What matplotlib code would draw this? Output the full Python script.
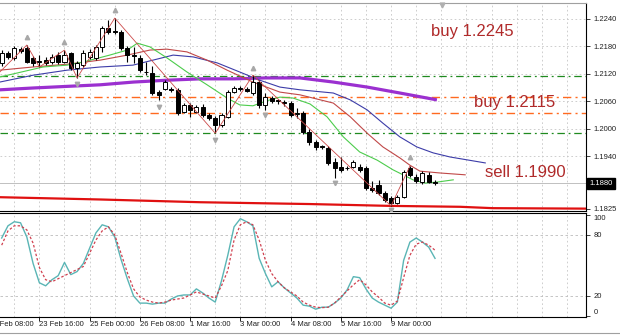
import matplotlib
matplotlib.use("Agg")
import matplotlib.pyplot as plt
import matplotlib.transforms as mtransforms
from matplotlib.lines import Line2D
import numpy as np

plt.rcParams['font.family'] = ['Liberation Sans', 'DejaVu Sans']

# ---------------- data (H4 candles) ----------------
opens = [1.2144, 1.2166, 1.2155, 1.2175, 1.2177, 1.2155, 1.2147, 1.2150, 1.2146, 1.2161,
         1.2146, 1.2166, 1.2133, 1.2139, 1.2157, 1.2155, 1.2179, 1.2220, 1.2213, 1.2212,
         1.2177, 1.2161, 1.2155, 1.2125, 1.2122, 1.2080, 1.2087, 1.2086, 1.2085, 1.2036,
         1.2052, 1.2036, 1.2047, 1.2030, 1.2023, 1.2008, 1.2025, 1.2080, 1.2088, 1.2087,
         1.2078, 1.2102, 1.2052, 1.2067, 1.2062, 1.2058, 1.2056, 1.2032, 1.2034, 1.1993,
         1.1971, 1.1961, 1.1958, 1.1927, 1.1916, 1.1914, 1.1916, 1.1916, 1.1914, 1.1870,
         1.1877, 1.1859, 1.1848, 1.1837, 1.1850, 1.1914, 1.1894, 1.1883, 1.1899, 1.1883]
highs = [1.2172, 1.2170, 1.2181, 1.2179, 1.2183, 1.2159, 1.2161, 1.2157, 1.2163, 1.2168,
         1.2172, 1.2168, 1.2148, 1.2172, 1.2174, 1.2183, 1.2225, 1.2238, 1.2242, 1.2216,
         1.2181, 1.2179, 1.2161, 1.2146, 1.2137, 1.2085, 1.2106, 1.2091, 1.2089, 1.2056,
         1.2056, 1.2052, 1.2054, 1.2034, 1.2028, 1.2034, 1.2085, 1.2093, 1.2093, 1.2091,
         1.2117, 1.2106, 1.2078, 1.2071, 1.2065, 1.2063, 1.2060, 1.2045, 1.2038, 1.1999,
         1.1975, 1.1964, 1.1962, 1.1936, 1.1938, 1.1918, 1.1931, 1.1923, 1.1918, 1.1885,
         1.1888, 1.1864, 1.1852, 1.1855, 1.1910, 1.1918, 1.1901, 1.1907, 1.1905, 1.1888]
lows = [1.2137, 1.2152, 1.2150, 1.2166, 1.2144, 1.2137, 1.2135, 1.2139, 1.2141, 1.2141,
        1.2144, 1.2128, 1.2111, 1.2135, 1.2152, 1.2150, 1.2168, 1.2207, 1.2207, 1.2172,
        1.2146, 1.2144, 1.2124, 1.2117, 1.2074, 1.2063, 1.2085, 1.2080, 1.2030, 1.2034,
        1.2025, 1.2034, 1.2025, 1.2019, 1.1990, 1.2004, 1.2023, 1.2078, 1.2082, 1.2080,
        1.2074, 1.2045, 1.2041, 1.2056, 1.2054, 1.2049, 1.2025, 1.2023, 1.1988, 1.1964,
        1.1953, 1.1955, 1.1920, 1.1892, 1.1905, 1.1910, 1.1914, 1.1905, 1.1866, 1.1861,
        1.1855, 1.1839, 1.1831, 1.1835, 1.1848, 1.1894, 1.1881, 1.1879, 1.1881, 1.1877]
closes = [1.2166, 1.2157, 1.2177, 1.2170, 1.2146, 1.2144, 1.2145, 1.2144, 1.2157, 1.2145,
          1.2161, 1.2133, 1.2144, 1.2166, 1.2168, 1.2179, 1.2220, 1.2212, 1.2211, 1.2177,
          1.2161, 1.2158, 1.2128, 1.2124, 1.2078, 1.2074, 1.2102, 1.2085, 1.2034, 1.2052,
          1.2041, 1.2047, 1.2030, 1.2023, 1.2008, 1.2030, 1.2080, 1.2089, 1.2087, 1.2083,
          1.2102, 1.2052, 1.2069, 1.2060, 1.2061, 1.2057, 1.2030, 1.2034, 1.1993, 1.1971,
          1.1960, 1.1959, 1.1925, 1.1914, 1.1910, 1.1913, 1.1927, 1.1910, 1.1870, 1.1866,
          1.1859, 1.1844, 1.1837, 1.1850, 1.1905, 1.1899, 1.1885, 1.1903, 1.1883, 1.1880]

# moving averages: (bar position, price) pairs
ma_green_x = [-0.3, 6.6, 10.4, 13, 17.2, 20, 21.6, 23.6, 26.3, 29.5, 32.7, 35.9, 37.9, 40,
              42.2, 44.3, 46.4, 49.1, 51.8, 54.4, 57, 59.8, 62.3, 63.9, 65.5, 67.4, 69.3, 71.9]
ma_green_y = [1.2113, 1.2135, 1.2139, 1.2146, 1.2161, 1.2172, 1.2187, 1.2179, 1.2155, 1.2124,
              1.2096, 1.2067, 1.2052, 1.2050, 1.2061, 1.2069, 1.2067, 1.2054, 1.2026, 1.1982,
              1.1949, 1.1931, 1.1910, 1.1899, 1.1888, 1.1881, 1.1883, 1.1888]
ma_red_x = [-0.3, 5, 10.4, 15.7, 20, 23.6, 26.3, 29.5, 32.7, 35.9, 40, 44.3, 47.5, 52.8,
            55.5, 58.2, 60.7, 63.4, 65, 66.6, 69.8, 73.8]
ma_red_y = [1.2128, 1.2135, 1.2141, 1.2150, 1.2161, 1.2172, 1.2174, 1.2168, 1.2150, 1.2128,
            1.2102, 1.2080, 1.2074, 1.2056, 1.2026, 1.1990, 1.1960, 1.1936, 1.1920, 1.1907,
            1.1903, 1.1899]
ma_blue_x = [-0.3, 5, 10.4, 15.7, 20.9, 24.1, 27.3, 30.5, 34.3, 37.9, 41.1, 44.3, 47.5, 52.8,
             55.5, 58.2, 60.7, 63.4, 66.1, 68.7, 71.4, 77]
ma_blue_y = [1.2102, 1.2117, 1.2128, 1.2135, 1.2139, 1.2150, 1.2161, 1.2157, 1.2144, 1.2124,
             1.2106, 1.2091, 1.2085, 1.2078, 1.2063, 1.2041, 1.2012, 1.1982, 1.1960, 1.1947,
             1.1938, 1.1925]
ma_purple_x = [-0.3, 5, 15.7, 21, 26.3, 31.6, 37, 42, 47.5, 52.8, 58.2, 63.4, 69.3]
ma_purple_y = [1.2085, 1.2089, 1.2096, 1.2102, 1.2106, 1.2109, 1.2109, 1.2111, 1.2111, 1.2102,
               1.2091, 1.2078, 1.2063]
ma_long_x = [-0.3, 15.7, 31.6, 49.1, 55.5, 61.8, 73, 78.2, 93.1]
ma_long_y = [1.1850, 1.1845, 1.1839, 1.1835, 1.1833, 1.1831, 1.1829, 1.1826, 1.1825]

zigzag_x = [-0.3, 4, 6, 10, 12, 18, 34, 40, 62, 65]
zigzag_y = [1.2124, 1.2183, 1.2135, 1.2172, 1.2111, 1.2242, 1.1990, 1.2117, 1.1831, 1.1918]

fractal_up_x = [4, 10, 18, 40, 65]
fractal_up_y = [1.2201, 1.2190, 1.2260, 1.2133, 1.1938]
fractal_dn_x = [12, 25, 34, 42, 53, 62]
fractal_dn_y = [1.2098, 1.2047, 1.1975, 1.2030, 1.1881, 1.1822]

levels_green = [1.2116, 1.1990]
levels_orange = [1.2069, 1.2034]
current_price = 1.1880

notes_text = ['buy 1.2245', 'buy 1.2115', 'sell 1.1990']
notes_x = [68.4, 75.2, 77.0]
notes_y = [1.22028, 1.20474, 1.18940]

price_ticks = [1.2240, 1.2180, 1.2120, 1.2060, 1.2000, 1.1940, 1.1825]

stoch_k = [77, 89, 93, 92, 78, 52, 33, 30, 36, 40, 53, 41, 44, 52, 67, 82, 90, 88, 78, 56,
           37, 20, 13, 13, 12, 13, 13, 17, 20, 21, 21, 27, 23, 18, 14, 35, 60, 88, 96, 93,
           89, 57, 42, 29, 34, 28, 23, 18, 11, 10, 7, 9, 9, 13, 18, 26, 39, 38, 27, 18,
           14, 11, 8, 14, 55, 73, 77, 73, 68, 57]
stoch_d = [70, 84, 89, 89, 85, 72, 48, 36, 34, 37, 40, 43, 46, 49, 62, 75, 84, 88, 80, 62,
           43, 27, 19, 16, 14, 13, 14, 16, 17, 18, 21, 24, 22, 20, 18, 30, 45, 75, 90, 93,
           90, 75, 55, 42, 34, 28, 24, 20, 14, 11, 9, 8.5, 9, 13, 19, 25, 31, 36, 31, 24,
           19, 13, 11, 15, 38, 60, 71, 73, 70, 65]

time_labels = ['22 Feb 08:00', '23 Feb 16:00', '25 Feb 00:00', '26 Feb 08:00', '1 Mar 16:00',
               '3 Mar 00:00', '4 Mar 08:00', '5 Mar 16:00', '9 Mar 00:00']
time_label_bars = [-2, 6, 14, 22, 30, 38, 46, 54, 62]

# ---------------- figure ----------------
fig = plt.figure(figsize=(6.2, 3.36), dpi=100)
fig.patch.set_facecolor('white')
ax = fig.add_axes([0, 125 / 336, 586 / 620, 208 / 336])
ax2 = fig.add_axes([0, 19 / 336, 586 / 620, 104 / 336])

xmin, xmax = -0.27, 93.04
for a in (ax, ax2):
    a.set_xlim(xmin, xmax)
    a.set_facecolor('white')
ax.set_ylim(1.18198, 1.22750)
ax2.set_ylim(-0.66, 101.6)

grid_col = '#c6c6c6'
grid_ls = (0, (2, 3))
for gx in np.arange(2, 93, 4):
    ax.axvline(gx, color=grid_col, lw=0.6, ls=grid_ls, zorder=0)
    ax2.axvline(gx, color=grid_col, lw=0.6, ls=grid_ls, zorder=0)
for gy in price_ticks[:-1]:
    ax.axhline(gy, color=grid_col, lw=0.6, ls=grid_ls, zorder=0)
ax2.axhline(80, color='#bcbcbc', lw=0.6, ls=(0, (3, 3)), zorder=0)
ax2.axhline(20, color='#bcbcbc', lw=0.6, ls=(0, (3, 3)), zorder=0)

# level lines
for lv in levels_green:
    ax.axhline(lv, color='#1f8a1f', lw=0.9, ls=(0, (6, 3, 1.5, 3)), zorder=1)
for lv in levels_orange:
    ax.axhline(lv, color='#ff6a20', lw=1.0, ls=(0, (6, 3, 1.5, 3)), zorder=1)
ax.axhline(current_price, color='#c0c0c0', lw=0.7, zorder=1)

# moving averages
ax.plot(ma_long_x, ma_long_y, color='#e01010', lw=1.6, zorder=2)
ax.plot(ma_purple_x, ma_purple_y, color='#9b30d0', lw=2.3, zorder=2, solid_capstyle='butt')
ax.plot(ma_blue_x, ma_blue_y, color='#3c3ca8', lw=0.8, zorder=2)
ax.plot(ma_red_x, ma_red_y, color='#c04848', lw=0.8, zorder=2)
ax.plot(ma_green_x, ma_green_y, color='#4ccc4c', lw=0.8, zorder=2)
ax.plot(zigzag_x, zigzag_y, color='#cc4a4a', lw=0.6, zorder=5)

# candles
bars = np.arange(len(opens))
o = np.array(opens); h = np.array(highs); l = np.array(lows); c = np.array(closes)
up = c >= o
body_lo = np.minimum(o, c)
body_h = np.maximum(np.abs(c - o), 0.00003)
ax.vlines(bars, l, h, color='black', lw=0.8, zorder=3)
ax.bar(bars, body_h, bottom=body_lo, width=0.64,
       color=['white' if u else 'black' for u in up],
       edgecolor='black', linewidth=0.7, zorder=4)

# fractal arrows
ax.plot(fractal_up_x, fractal_up_y, ls='none', marker='^', ms=3.2, color='#a8a8a8', zorder=5)
ax.plot(fractal_dn_x, fractal_dn_y, ls='none', marker='v', ms=3.2, color='#a8a8a8', zorder=5)
# chart shift marker
ax.plot([70.1], [0.99], marker='v', ms=3.5, color='#b0b0b0',
        transform=mtransforms.blended_transform_factory(ax.transData, ax.transAxes),
        clip_on=False, zorder=6)

# notes
for t, nx, ny in zip(notes_text, notes_x, notes_y):
    ax.text(nx, ny, t, color='#b02a2a', fontsize=12, ha='left', va='baseline', zorder=7)

# price axis
ax.yaxis.tick_right()
ax.set_yticks(price_ticks)
ax.set_yticklabels([f'{v:.4f}' for v in price_ticks])
ax.tick_params(axis='y', direction='out', length=3, width=0.6, pad=2.5,
               labelsize=5.5, colors='#202020')
ax.tick_params(axis='x', bottom=False, labelbottom=False)
ax.text(1.0 + 3 / 586, current_price, f'{current_price:.4f}',
        transform=mtransforms.blended_transform_factory(ax.transAxes, ax.transData),
        color='white', fontsize=5.5, ha='left', va='center', zorder=8,
        bbox=dict(boxstyle='square,pad=0.3', fc='black', ec='black'), clip_on=False)

for side in ('left',):
    ax.spines[side].set_visible(False)
    ax2.spines[side].set_visible(False)
ax.spines['top'].set_color('#a0a0a0')
for sp in ('right', 'bottom'):
    ax.spines[sp].set_color('black')
    ax.spines[sp].set_linewidth(0.8)
for sp in ('right', 'bottom', 'top'):
    ax2.spines[sp].set_color('black')
    ax2.spines[sp].set_linewidth(0.8)

# stochastic
ax2.plot(bars, stoch_k, color='#5ab5b5', lw=1.0, zorder=3)
ax2.plot(bars, stoch_d, color='#d0404f', lw=0.9, ls=(0, (2, 1.6)), zorder=4)
ax2.yaxis.tick_right()
ax2.set_yticks([100, 80, 20, 0])
ax2.set_yticklabels(['100', '80', '20', '0'])
ax2.tick_params(axis='y', direction='out', length=3, width=0.6, pad=2.5,
                labelsize=5.5, colors='#202020')
labs = ax2.get_yticklabels()
labs[0].set_va('top')
labs[-1].set_va('bottom')
ax2.set_xticks(time_label_bars[1:])
ax2.set_xticklabels([])
ax2.tick_params(axis='x', direction='out', length=3, width=0.6)
tr = mtransforms.blended_transform_factory(ax2.transData, ax2.transAxes)
for b, t in zip(time_label_bars, time_labels):
    ax2.text(b, -7.5 / 104, t, transform=tr, fontsize=5.5, color='#202020',
             ha='left', va='center', clip_on=False)

fig.add_artist(Line2D([0, 1], [3 / 336, 3 / 336], color='#a0a0a0', lw=0.8))

fig.savefig('out.png', dpi=100)
